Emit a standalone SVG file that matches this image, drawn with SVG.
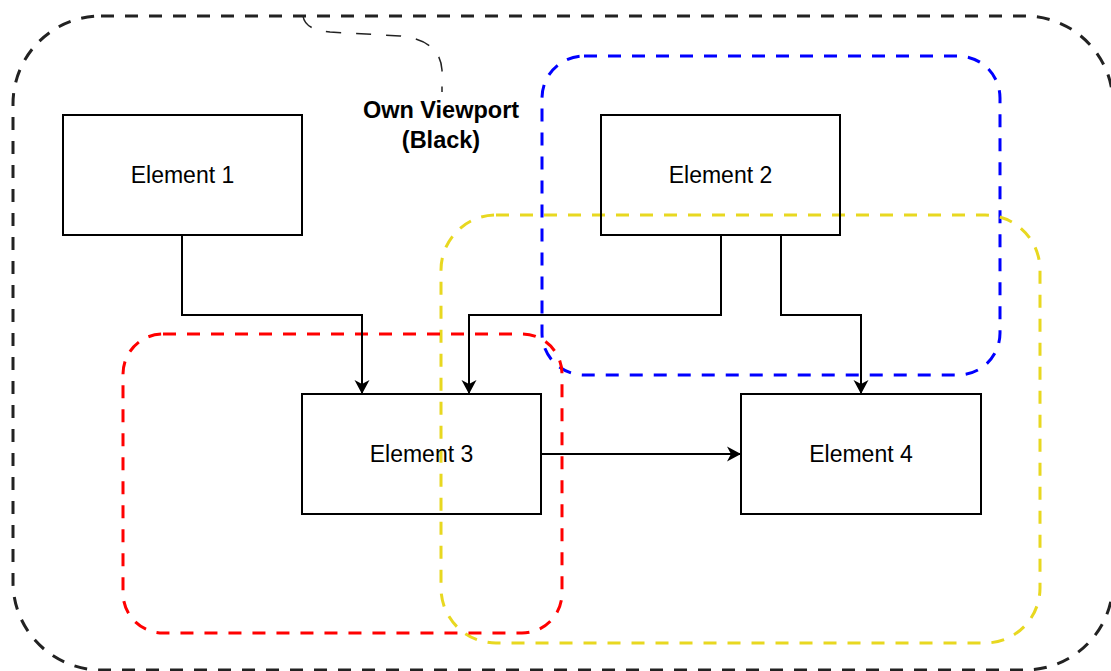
<svg xmlns="http://www.w3.org/2000/svg" width="1111" height="671" viewBox="0 0 1111 671">
  <style>
    .vp { fill: none; stroke-width: 3; stroke-dasharray: 13 11; }
    .box { fill: none; stroke: #000; stroke-width: 2; }
    .lbl { font-family: "Liberation Sans", Arial, sans-serif; font-size: 23px; fill: #000; text-anchor: middle; }
    .bold { font-weight: bold; font-size: 23.5px; }
    .edge { fill: none; stroke: #000; stroke-width: 2; }
  </style>
  <defs>
    <marker id="arrow" markerUnits="userSpaceOnUse" markerWidth="15" markerHeight="16" refX="14" refY="8" orient="auto" viewBox="0 0 15 16">
      <path d="M14,8 L0,0.5 L4,8 L0,15.5 Z" fill="#000"/>
    </marker>
  </defs>
  <rect width="1111" height="671" fill="#fff"/>

  <g id="viewport-black">
    <rect class="vp" x="13" y="16" width="1100" height="654" rx="88" ry="88" stroke="#222"/>
    <path d="M303,16 Q305,30 330,32 L400,36 Q440,40 442,70 L442,92" fill="none" stroke="#222" stroke-width="1.5" stroke-dasharray="15 15"/>
    <text class="lbl bold" x="441" y="118">Own Viewport</text>
    <text class="lbl bold" x="441" y="148">(Black)</text>
  </g>
  <g id="viewport-blue">
    <rect class="vp" x="542" y="56" width="458" height="319" rx="42" ry="42" stroke="#0000ff"/>
  </g>
  <g id="viewport-yellow">
    <rect class="vp" x="441" y="215" width="599" height="428" rx="55" ry="55" stroke="#e8d820"/>
  </g>
  <g id="viewport-red">
    <rect class="vp" x="123" y="334" width="439" height="299" rx="40" ry="40" stroke="#ff0000"/>
  </g>

  <g id="connectors">
    <path class="edge" d="M182,235 L182,315 L362,315 L362,394" marker-end="url(#arrow)"/>
    <path class="edge" d="M721,235 L721,315 L469,315 L469,394" marker-end="url(#arrow)"/>
    <path class="edge" d="M781,235 L781,315 L861,315 L861,394" marker-end="url(#arrow)"/>
    <path class="edge" d="M541,454 L741,454" marker-end="url(#arrow)"/>
  </g>

  <g id="element1">
    <rect class="box" x="63" y="115" width="239" height="120"/>
    <text class="lbl" x="182.5" y="183">Element 1</text>
  </g>
  <g id="element2">
    <rect class="box" x="601" y="115" width="239" height="120"/>
    <text class="lbl" x="720.5" y="183">Element 2</text>
  </g>
  <g id="element3">
    <rect class="box" x="302" y="394" width="239" height="120"/>
    <text class="lbl" x="421.5" y="462">Element 3</text>
  </g>
  <g id="element4">
    <rect class="box" x="741" y="394" width="240" height="120"/>
    <text class="lbl" x="861" y="462">Element 4</text>
  </g>
</svg>
